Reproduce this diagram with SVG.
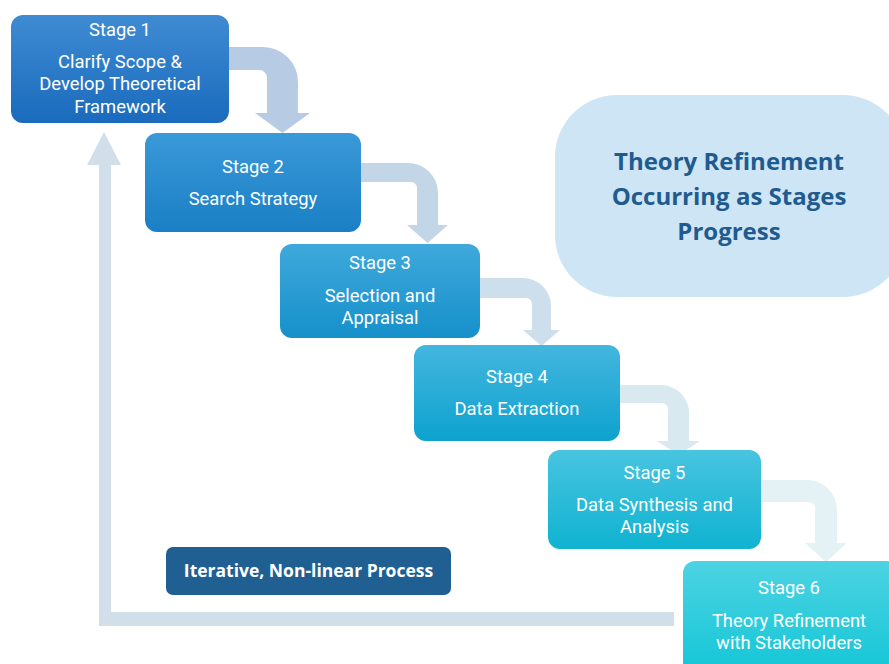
<svg xmlns="http://www.w3.org/2000/svg" width="889" height="664" viewBox="0 0 889 664">
<defs>
<linearGradient id="g1" x1="0" y1="0" x2="0" y2="1"><stop offset="0" stop-color="#3f8bd3"/><stop offset="1" stop-color="#1a6bbd"/></linearGradient>
<linearGradient id="g2" x1="0" y1="0" x2="0" y2="1"><stop offset="0" stop-color="#3a99d8"/><stop offset="1" stop-color="#1a7fc5"/></linearGradient>
<linearGradient id="g3" x1="0" y1="0" x2="0" y2="1"><stop offset="0" stop-color="#3fa9dc"/><stop offset="1" stop-color="#1690ca"/></linearGradient>
<linearGradient id="g4" x1="0" y1="0" x2="0" y2="1"><stop offset="0" stop-color="#43b6de"/><stop offset="1" stop-color="#0ea2cf"/></linearGradient>
<linearGradient id="g5" x1="0" y1="0" x2="0" y2="1"><stop offset="0" stop-color="#48c4e0"/><stop offset="1" stop-color="#0fb3d1"/></linearGradient>
<linearGradient id="g6" x1="0" y1="0" x2="0" y2="1"><stop offset="0" stop-color="#4dd3e3"/><stop offset="1" stop-color="#12c6d6"/></linearGradient>
</defs>
<style>
.st{font-family:Roboto,"Liberation Sans",sans-serif;font-size:18.4px;fill:#ffffff;text-anchor:middle}
.bt{font-family:"Open Sans","DejaVu Sans",sans-serif;font-size:24px;font-weight:bold;fill:#1f5b8f;text-anchor:middle}
.it{font-family:"Open Sans","DejaVu Sans",sans-serif;font-size:17.5px;font-weight:bold;fill:#ffffff;text-anchor:middle}
</style>
<rect width="889" height="664" fill="#ffffff"/>
<g id="theory-bubble">
<rect x="555" y="95" width="350" height="202" rx="62" ry="62" fill="#cde5f4"/>
<text class="bt" x="729" y="170">Theory Refinement<tspan x="729" dy="35">Occurring as Stages</tspan><tspan x="729" dy="35">Progress</tspan></text>
</g>
<g id="connectors">
<path d="M220,47 H263 A35,35 0 0 1 298,82 V113 H310 L282.5,133 L255,113 H267 V78 A8,8 0 0 0 259,70 H220 Z" fill="#b8cbe4"/>
<path d="M352,163 H408 A30,30 0 0 1 438,193 V225 H448 L427.5,243 L407,225 H417 V188 A6,6 0 0 0 411,182 H352 Z" fill="#c3d6e8"/>
<path d="M470,278 H523 A28,28 0 0 1 551,306 V330 H560 L541.5,346 L523,330 H532 V304 A6,6 0 0 0 526,298 H470 Z" fill="#cddfec"/>
<path d="M610,385 H661 A28,28 0 0 1 689,413 V441 H700 L678.5,455 L657,441 H668 V409 A6,6 0 0 0 662,403 H610 Z" fill="#d8e9f0"/>
<path d="M750,480 H807 A30,30 0 0 1 837,510 V543 H847 L826,562 L805,543 H815 V508 A6,6 0 0 0 809,502 H750 Z" fill="#e4f2f5"/>
<path d="M674,612 H111 V165 H121 L104,132 L87,165 H99 V626 H674 Z" fill="#d0dfe9"/>
</g>
<g id="stage1">
<rect x="11" y="15" width="218" height="108" rx="12" fill="url(#g1)"/>
<text class="st" x="120" y="36">Stage 1</text>
<text class="st" x="120" y="68">Clarify Scope &amp;<tspan x="120" dy="22">Develop Theoretical</tspan><tspan x="120" dy="23">Framework</tspan></text>
</g>
<g id="stage2">
<rect x="145" y="133" width="216" height="99" rx="12" fill="url(#g2)"/>
<text class="st" x="253" y="173">Stage 2</text>
<text class="st" x="253" y="205">Search Strategy</text>
</g>
<g id="stage3">
<rect x="280" y="244" width="200" height="94" rx="12" fill="url(#g3)"/>
<text class="st" x="380" y="269">Stage 3</text>
<text class="st" x="380" y="302">Selection and<tspan x="380" dy="22">Appraisal</tspan></text>
</g>
<g id="stage4">
<rect x="414" y="345" width="206" height="96" rx="12" fill="url(#g4)"/>
<text class="st" x="517" y="383">Stage 4</text>
<text class="st" x="517" y="415">Data Extraction</text>
</g>
<g id="stage5">
<rect x="548" y="450" width="213" height="99" rx="12" fill="url(#g5)"/>
<text class="st" x="654.5" y="479">Stage 5</text>
<text class="st" x="654.5" y="511">Data Synthesis and<tspan x="654.5" dy="22">Analysis</tspan></text>
</g>
<g id="stage6">
<rect x="683" y="561" width="215" height="115" rx="12" fill="url(#g6)"/>
<text class="st" x="789" y="594">Stage 6</text>
<text class="st" x="789" y="627">Theory Refinement<tspan x="789" dy="22">with Stakeholders</tspan></text>
</g>
<g id="iterative">
<rect x="166" y="547" width="285" height="48" rx="7" fill="#1f5f92"/>
<text class="it" x="308.5" y="577">Iterative, Non-linear Process</text>
</g>
</svg>
